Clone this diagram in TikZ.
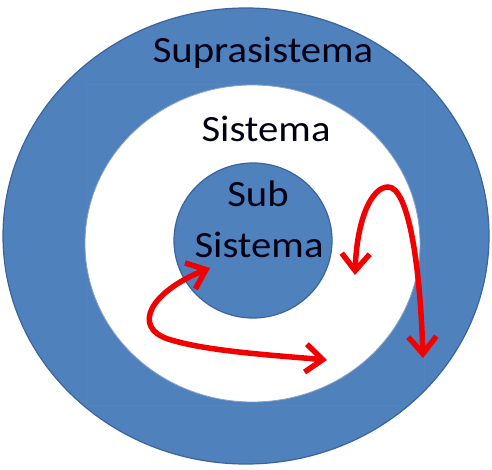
\documentclass[tikz,border=0pt]{standalone}
\usepackage{fontspec}
\usepackage{graphicx}
\setmainfont{Carlito}
\usetikzlibrary{arrows.meta}
\definecolor{ringblue}{HTML}{4F81BD}
\definecolor{ringedge}{HTML}{3A64A0}
\definecolor{faint}{HTML}{5585C0}
\definecolor{arrowred}{HTML}{F20000}
\newcommand{\widetext}[1]{\scalebox{1.1}[1]{#1}}
\tikzset{
  ring/.style={fill=ringblue, draw=ringedge, line width=1.2pt},
  hole/.style={fill=white, draw=ringedge!60, line width=0.8pt},
  lbl/.style={anchor=base, font=\fontsize{37}{40}\selectfont, text=black!92!blue, inner sep=0pt},
  flow/.style={draw=arrowred, line width=5.5pt, line cap=round,
    {Straight Barb[length=17pt,width=28pt,line width=5.5pt]}-{Straight Barb[length=17pt,width=28pt,line width=5.5pt]}}
}
\begin{document}
\begin{tikzpicture}[x=1pt,y=-1pt]
\useasboundingbox (0,0) rectangle (492,470);
\fill[white] (0,0) rectangle (492,470);
% circles
\path[ring] (246,236) ellipse [x radius=243, y radius=228];
\begin{scope}
  \clip (246,236) ellipse [x radius=241, y radius=226];
  \draw[faint, line width=0.5pt] (86,84) rectangle (424,405);
\end{scope}
\path[hole] (252.5,243.5) ellipse [x radius=167.5, y radius=158.5];
\path[ring] (253,240.5) ellipse [x radius=79, y radius=77.5];
% labels
\node[lbl] (supra) at (263,63) {\widetext{Suprasistema}};
\node[lbl] (sis) at (266,142) {\widetext{Sistema}};
\node[lbl] (sub) at (258,207) {\widetext{Sub}};
\node[lbl] (subsis) at (259,257) {\widetext{Sistema}};
% arrow end points
\coordinate (a1s) at (210,268);
\coordinate (a1e) at (327,360);
\coordinate (a2s) at (355,275);
\coordinate (a2p) at (388,187);
\coordinate (a2e) at (423,358);
\draw[flow] (a1s) .. controls (150,292) and (132,327) .. (168,339) .. controls (205,351) and (270,355) .. (a1e);
\draw[flow] (a2s) .. controls (357,218) and (372,187) .. (a2p) .. controls (408,187) and (420,262) .. (a2e);
\end{tikzpicture}
\end{document}
